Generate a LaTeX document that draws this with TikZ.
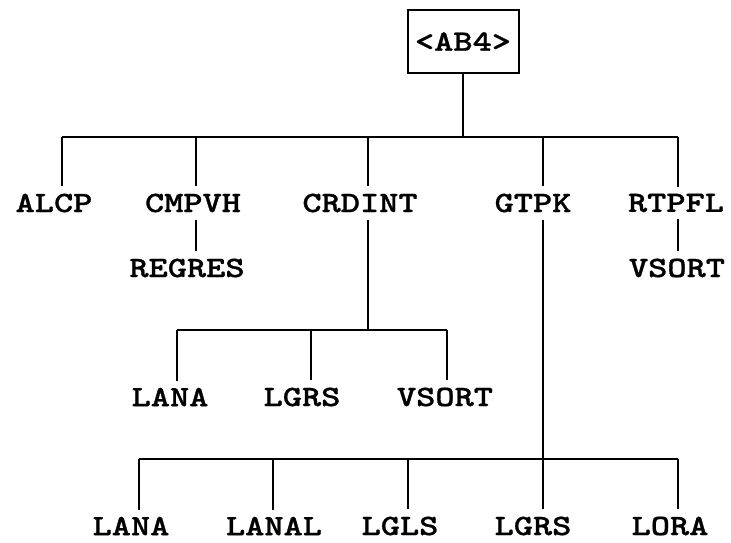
\documentclass[tikz,border=0pt]{standalone}
\usepackage{fontspec}
\newfontfamily\courf[FakeStretch=1.24,FakeBold=0.9]{lmmonolt10-bold.otf}
\begin{document}
\begin{tikzpicture}[x=1pt,y=-1pt,
  lab/.style={font=\courf\fontsize{29.5}{36}\selectfont, inner xsep=0pt, inner ysep=7pt},
  conn/.style={line width=2.2pt}]
\useasboundingbox (0,0) rectangle (731,542);
% root
\node[draw, line width=2pt, minimum width=111pt, minimum height=63pt, font=\courf\fontsize{29.5}{36}\selectfont, inner sep=0pt] (root) at (463,41.5) {<AB4>};
% level 1
\node[lab] (ALCP)   at (54,203)  {ALCP};
\node[lab] (CMPVH)  at (193,203) {CMPVH};
\node[lab] (CRDINT) at (360,203) {CRDINT};
\node[lab] (GTPK)   at (533,203) {GTPK};
\node[lab] (RTPFL)  at (676,203) {RTPFL};
% level 2
\node[lab] (REGRES) at (187,268) {REGRES};
\node[lab] (VSORTa) at (677,268) {VSORT};
% level 3 (CRDINT children)
\node[lab] (LANAa)  at (170,397) {LANA};
\node[lab] (LGRSa)  at (302,397) {LGRS};
\node[lab] (VSORTb) at (445,397) {VSORT};
% level 4 (GTPK children)
\node[lab] (LANAb)  at (131,526) {LANA};
\node[lab] (LANAL)  at (274,526) {LANAL};
\node[lab] (LGLS)   at (400,526) {LGLS};
\node[lab] (LGRSb)  at (533,526) {LGRS};
\node[lab] (LORA)   at (670,526) {LORA};
% tie points (line x positions on the bars)
\coordinate (r0) at (463,137);
\coordinate (tA) at (62,137);
\coordinate (tCM) at (196,137);
\coordinate (tCR) at (368,137);
\coordinate (tG) at (543,137);
\coordinate (tR) at (678,137);
\coordinate (c0) at (368,330);
\coordinate (c1) at (177,330);
\coordinate (c2) at (311,330);
\coordinate (c3) at (447,330);
\coordinate (g0) at (543,459);
\coordinate (g1) at (139,459);
\coordinate (g2) at (273,459);
\coordinate (g3) at (408,459);
\coordinate (g5) at (678,459);
% connectors
\draw[conn] (root.south -| r0) -- (r0);
\draw[conn] (tA) -- (tR);
\draw[conn] (tA) -- (tA |- ALCP.north);
\draw[conn] (tCM) -- (tCM |- CMPVH.north);
\draw[conn] (tCR) -- (tCR |- CRDINT.north);
\draw[conn] (tG) -- (tG |- GTPK.north);
\draw[conn] (tR) -- (tR |- RTPFL.north);
\draw[conn] (tCM |- CMPVH.south) -- (tCM |- REGRES.north);
\draw[conn] (tR |- RTPFL.south) -- (tR |- VSORTa.north);
\draw[conn] (tCR |- CRDINT.south) -- (c0);
\draw[conn] (c1) -- (c3);
\draw[conn] (c1) -- (c1 |- LANAa.north);
\draw[conn] (c2) -- (c2 |- LGRSa.north);
\draw[conn] (c3) -- (c3 |- VSORTb.north);
\draw[conn] (tG |- GTPK.south) -- (g0 |- LGRSb.north);
\draw[conn] (g1) -- (g5);
\draw[conn] (g1) -- (g1 |- LANAb.north);
\draw[conn] (g2) -- (g2 |- LANAL.north);
\draw[conn] (g3) -- (g3 |- LGLS.north);
\draw[conn] (g5) -- (g5 |- LORA.north);
\end{tikzpicture}
\end{document}
